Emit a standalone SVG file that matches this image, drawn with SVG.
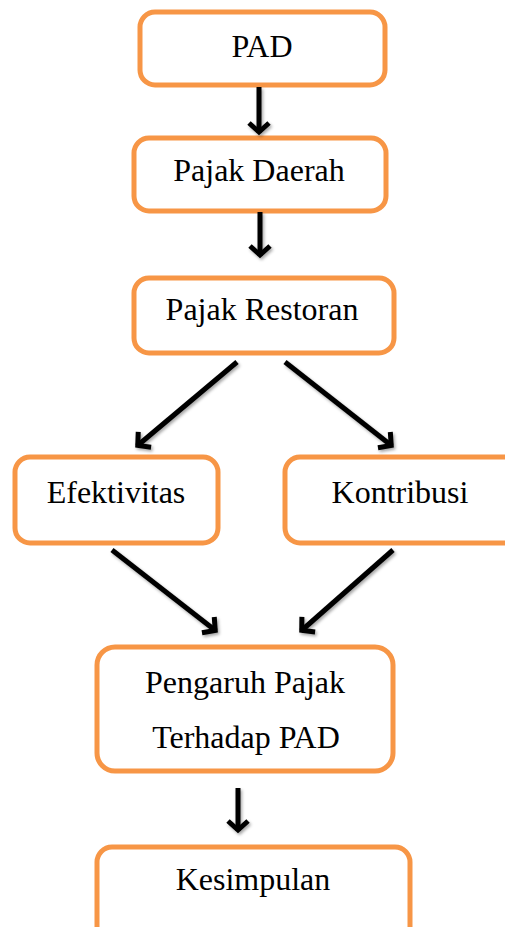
<svg xmlns="http://www.w3.org/2000/svg" width="505" height="927" viewBox="0 0 505 927">
<style>
.box{fill:#fff;stroke:#F79646;stroke-width:5}
.t{font-family:"Liberation Serif","Times New Roman",serif;font-size:32px;fill:#000;text-anchor:middle}
.c{stroke:#000;stroke-width:5;fill:none;marker-end:url(#arr);filter:url(#sh)}
</style>
<defs>
<filter id="sh" filterUnits="userSpaceOnUse" x="0" y="0" width="505" height="927">
<feDropShadow dx="1.5" dy="2" stdDeviation="1.5" flood-color="#000" flood-opacity="0.35"/>
</filter>
<marker id="arr" markerUnits="userSpaceOnUse" markerWidth="30" markerHeight="30" viewBox="-15 -15 30 30" refX="0" refY="0" orient="auto">
<path d="M-10,-10 L-1,0 L-10,10" stroke="#000" stroke-width="5" fill="none"/>
</marker>
</defs>
<g id="n1"><rect class="box" x="140" y="12" width="245" height="73" rx="15"/><text class="t" x="262" y="57">PAD</text></g>
<g id="n2"><rect class="box" x="134" y="138" width="252" height="73" rx="15"/><text class="t" x="259" y="181">Pajak Daerah</text></g>
<g id="n3"><rect class="box" x="134" y="278" width="260" height="75" rx="15"/><text class="t" x="262" y="320">Pajak Restoran</text></g>
<g id="n4"><rect class="box" x="15" y="457" width="203" height="86" rx="15"/><text class="t" x="116" y="503">Efektivitas</text></g>
<g id="n5"><rect class="box" x="285" y="457" width="235" height="86" rx="15"/><text class="t" x="400" y="503">Kontribusi</text></g>
<g id="n6"><rect class="box" x="97" y="647" width="296" height="124" rx="18"/><text class="t" x="245" y="693">Pengaruh Pajak</text><text class="t" x="246" y="748">Terhadap PAD</text></g>
<g id="n7"><rect class="box" x="97" y="847" width="313" height="100" rx="15"/><text class="t" x="253" y="890">Kesimpulan</text></g>
<g id="connectors">
<line class="c" x1="259" y1="87" x2="259" y2="133"/>
<line class="c" x1="260" y1="212" x2="260" y2="256"/>
<line class="c" x1="237" y1="362" x2="137" y2="446"/>
<line class="c" x1="285" y1="362" x2="392" y2="446"/>
<line class="c" x1="112" y1="550" x2="216" y2="631"/>
<line class="c" x1="393" y1="550" x2="301" y2="631"/>
<line class="c" x1="238" y1="788" x2="238" y2="831"/>
</g>
</svg>
